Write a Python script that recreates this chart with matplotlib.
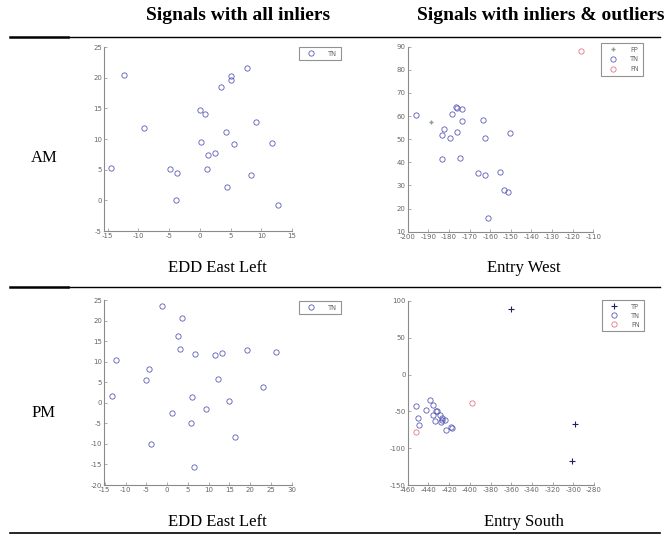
import numpy as np
import matplotlib.pyplot as plt
from matplotlib.lines import Line2D

plt.rcParams['axes.unicode_minus'] = False

# AM, EDD East Left (all inliers)
am_tn_x = [-12.4, -14.5, -9.1, -4.9, -3.7, -3.9, 0.0, 0.8, 0.25, 1.35, 2.4, 1.1,
           3.4, 5.0, 5.0, 4.3, 5.5, 4.4, 7.7, 9.1, 8.3, 11.7, 12.8]
am_tn_y = [20.5, 5.3, 11.8, 5.1, 4.5, 0.1, 14.7, 14.1, 9.5, 7.4, 7.7, 5.1,
           18.4, 20.3, 19.7, 11.2, 9.2, 2.1, 21.5, 12.8, 4.2, 9.4, -0.8]

# AM, Entry West (inliers & outliers)
west_fp_x = [-188.9]
west_fp_y = [57.3]
west_tn_x = [-196.0, -182.4, -183.4, -179.5, -183.5, -178.4, -176.4, -175.9, -176.3,
             -173.5, -173.8, -174.6, -166.1, -163.3, -162.7, -162.4, -161.2, -155.1,
             -153.1, -151.5, -150.2]
west_tn_y = [60.5, 54.3, 52.0, 50.4, 41.3, 60.9, 63.8, 63.5, 53.2,
             63.1, 58.0, 41.9, 35.5, 58.3, 50.5, 34.4, 15.8, 36.0,
             28.2, 27.3, 52.8]
west_fn_x = [-116.1]
west_fn_y = [88.1]

# PM, EDD East Left (all inliers)
pm_tn_x = [-1.3, 3.7, 2.7, 3.1, 6.6, 11.6, 13.2, 19.2, 26.3, -12.3, -4.3, -5.0,
           12.2, 23.1, -13.3, 6.0, 14.9, 9.3, 1.2, 5.7, 16.4, -3.8, 6.5]
pm_tn_y = [23.5, 20.6, 16.2, 13.2, 11.8, 11.6, 12.1, 12.8, 12.4, 10.5, 8.3, 5.6,
           5.9, 3.8, 1.6, 1.4, 0.4, -1.6, -2.4, -4.8, -8.3, -10.0, -15.7]

# PM, Entry South (inliers & outliers)
south_tp_x = [-360.5, -298.4, -300.9]
south_tp_y = [88.7, -67.6, -117.8]
south_tn_x = [-452.3, -438.4, -442.3, -449.7, -448.7, -435.2, -435.9, -433.6, -433.0,
              -431.7, -428.4, -427.2, -426.5, -427.5, -424.0, -423.0, -418.1, -416.9]
south_tn_y = [-42.2, -34.5, -47.6, -59.4, -68.5, -41.3, -55.3, -62.6, -49.0,
              -49.9, -54.9, -58.5, -61.7, -64.9, -61.7, -75.3, -70.7, -73.0]
south_fn_x = [-398.2, -452.3]
south_fn_y = [-39.0, -78.0]

col_titles = ['Signals with all inliers', 'Signals with inliers & outliers']
row_labels = ['AM', 'PM']
captions = [['EDD East Left', 'Entry West'], ['EDD East Left', 'Entry South']]

TN_C = '#5a5ab8'
FN_C = '#e07888'
TP_C = '#202060'
FP_C = '#8c9c8c'
AX_C = '#8a8a8a'

W, H = 665, 537
fig = plt.figure(figsize=(6.65, 5.37), dpi=100)


def px_axes(x0, x1, y0, y1):
    # pixel box -> figure fraction
    return fig.add_axes([x0 / W, 1 - y1 / H, (x1 - x0) / W, (y1 - y0) / H])


def style(ax, xlim, ylim, xt, yt):
    ax.set_xlim(*xlim)
    ax.set_ylim(*ylim)
    ax.set_xticks(xt)
    ax.set_yticks(yt)
    for s in ['top', 'right']:
        ax.spines[s].set_visible(False)
    for s in ['left', 'bottom']:
        ax.spines[s].set_color(AX_C)
        ax.spines[s].set_linewidth(0.8)
    ax.tick_params(direction='in', length=2, width=0.5, color=AX_C,
                   labelsize=5, labelcolor='#666666', pad=1.5)
    ax.patch.set_alpha(0)


def legend(ax, anchor, spacing=0.35):
    lg = ax.legend(loc='upper left', bbox_to_anchor=anchor, bbox_transform=fig.transFigure,
                   fontsize=4.8, frameon=True, fancybox=False, handlelength=2.4,
                   borderpad=0.55, labelspacing=spacing, handletextpad=1.4, borderaxespad=0)
    lg.get_frame().set_edgecolor('#777777')
    lg.get_frame().set_linewidth(0.8)
    for t in lg.get_texts():
        t.set_color('#666666')


mk = dict(linestyle='', marker='o', markersize=3.8, markerfacecolor='none', markeredgewidth=0.6)

ax1 = px_axes(104, 292, 47, 231)
ax1.plot(am_tn_x, am_tn_y, color=TN_C, label='TN', **mk)
style(ax1, (-15.6, 15), (-5, 25), range(-15, 16, 5), range(-5, 26, 5))
legend(ax1, (299 / W, 1 - 47 / H))

ax2 = px_axes(407.7, 593.3, 46.7, 231.7)
ax2.plot(west_fp_x, west_fp_y, linestyle='', marker='+', markersize=2.5, color=FP_C, label='FP')
ax2.plot(west_tn_x, west_tn_y, color=TN_C, label='TN', **mk)
ax2.plot(west_fn_x, west_fn_y, color=FN_C, label='FN', **mk)
style(ax2, (-200, -110), (10, 90), range(-200, -109, 10), range(10, 91, 10))
legend(ax2, (601 / W, 1 - 43 / H), spacing=0.55)

ax3 = px_axes(104, 291.7, 300.3, 485)
ax3.plot(pm_tn_x, pm_tn_y, color=TN_C, label='TN', **mk)
style(ax3, (-15.2, 30), (-20, 25), range(-15, 31, 5), range(-20, 26, 5))
legend(ax3, (299 / W, 1 - 301 / H))

ax4 = px_axes(407.7, 594, 301, 485)
ax4.plot(south_tp_x, south_tp_y, linestyle='', marker='+', markersize=4, markeredgewidth=0.8,
         color=TP_C, label='TP')
ax4.plot(south_tn_x, south_tn_y, color=TN_C, label='TN', **mk)
ax4.plot(south_fn_x, south_fn_y, color=FN_C, label='FN', **mk)
style(ax4, (-460, -280), (-150, 100), range(-460, -279, 20), range(-150, 101, 50))
legend(ax4, (602 / W, 1 - 300 / H), spacing=0.45)

# table text
serif = 'Liberation Serif'
fig.text(238 / W, 1 - 16 / H, col_titles[0], ha='center', va='center',
         fontsize=14, fontweight='bold', family=serif)
fig.text(541 / W, 1 - 16 / H, col_titles[1], ha='center', va='center',
         fontsize=14, fontweight='bold', family=serif)
fig.text(44 / W, 1 - 158 / H, row_labels[0], ha='center', va='center', fontsize=12, family=serif)
fig.text(44 / W, 1 - 413 / H, row_labels[1], ha='center', va='center', fontsize=12, family=serif)
fig.text(217 / W, 1 - 268 / H, captions[0][0], ha='center', va='center', fontsize=12, family=serif)
fig.text(524 / W, 1 - 268 / H, captions[0][1], ha='center', va='center', fontsize=12, family=serif)
fig.text(217 / W, 1 - 522 / H, captions[1][0], ha='center', va='center', fontsize=12, family=serif)
fig.text(524 / W, 1 - 522 / H, captions[1][1], ha='center', va='center', fontsize=12, family=serif)

# table rules
for yy in [37, 287]:
    fig.add_artist(Line2D([10 / W, 68 / W], [1 - yy / H] * 2, color='black', lw=1.8))
    fig.add_artist(Line2D([68 / W, 660 / W], [1 - (yy - 0.5) / H] * 2, color='black', lw=1.0))
fig.add_artist(Line2D([10 / W, 660 / W], [1 - 533 / H] * 2, color='black', lw=1.2))

fig.savefig('out.png', dpi=100)
